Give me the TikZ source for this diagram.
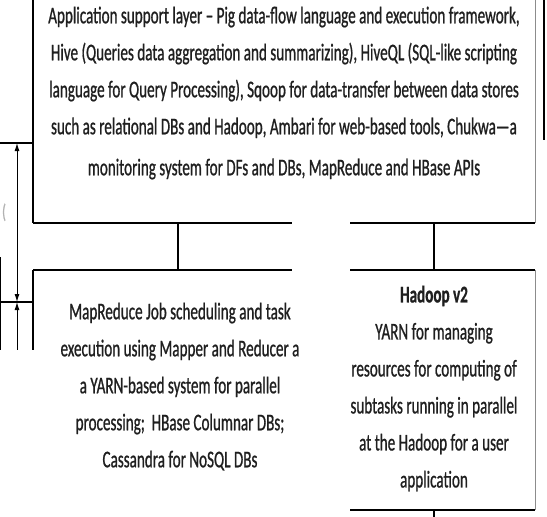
\documentclass[tikz,border=0pt]{standalone}
\usepackage{fontspec}
\setmainfont{Carlito}[FakeStretch=0.63,FakeBold=0.8]
\usepackage{tikz}
\usetikzlibrary{arrows.meta}

\begin{document}
\begin{tikzpicture}[x=1pt, y=-1pt, line width=1.2pt,
      every node/.append style={font=\fontsize{24}{37}\selectfont,align=center,inner sep=0pt,anchor=north,text=black!88},
      rim/.style={line width=2.4pt},
      side/.style={line width=0.6pt,color=black!45},
      dim/.style={line width=1pt,{Latex[length=8pt,width=5pt]}-{Latex[length=8pt,width=5pt]}}]
    \tikzstyle{faint} = [text=black!30,font=\fontsize{20}{24}\selectfont]
    \useasboundingbox (0,0) rectangle (547,517);
    \coordinate (appNW) at (33,0);
    \coordinate (appSW) at (33,223);
    \coordinate (appSM) at (292,223);
    \coordinate (appSN) at (350,223);
    \coordinate (appSE) at (535,223);
    \coordinate (appNE) at (535,0);
    \coordinate (cutN) at (544,0);
    \coordinate (cutS) at (544,140);
    \coordinate (mrNW) at (33,270);
    \coordinate (mrNE) at (292,270);
    \coordinate (mrSW) at (33,350);
    \coordinate (yarnNW) at (350,270);
    \coordinate (yarnNE) at (535,270);
    \coordinate (yarnSE) at (535,510);
    \coordinate (yarnSW) at (350,510);
    \coordinate (yarnTail) at (434,517);
    \coordinate (upL) at (178,223);
    \coordinate (downL) at (178,270);
    \coordinate (upR) at (434,223);
    \coordinate (downR) at (434,270);
    \coordinate (tickR) at (434,510);
    \coordinate (dimA) at (17,143);
    \coordinate (dimB) at (17,302);
    \coordinate (dimC) at (17,350);
    \coordinate (extA) at (0,143);
    \coordinate (extB) at (0,302);
    \coordinate (extAE) at (33,143);
    \coordinate (extBE) at (33,302);
    \coordinate (edgeN) at (0.6,257);
    \coordinate (edgeS) at (0.6,350);

    \node (app) at (284,6) {Application support layer -- Pig data-flow language and execution framework,\\
      Hive (Queries data aggregation and summarizing), HiveQL (SQL-like scripting\\
      language for Query Processing), Sqoop for data-transfer between data stores\\
      such as relational DBs and Hadoop, Ambari for web-based tools, Chukwa---a\\[4pt]
      monitoring system for DFs and DBs, MapReduce and HBase APIs};
    \node (mr) at (180,302) {MapReduce Job scheduling and task\\
      execution using Mapper and Reducer a\\
      a YARN-based system for parallel\\
      processing;\ \ HBase Columnar DBs;\\
      Cassandra for NoSQL DBs};
    \node (yarn) at (434,285) {\bfseries Hadoop v2\\
      YARN for managing\\
      resources for computing of\\
      subtasks running in parallel\\
      at the Hadoop for a user\\
      application};
    \node [faint] (paren) at (4,203) {(};

    \draw (appNW) -- (appSW);
    \draw [side] (appNE) -- (appSE);
    \draw (cutN) -- (cutS);
    \draw [rim] (appSW) -- (appSM);
    \draw [rim] (appSN) -- (appSE);
    \draw (upL) -- (downL);
    \draw (upR) -- (downR);
    \draw [rim] (mrNW) -- (mrNE);
    \draw (mrNW) -- (mrSW);
    \draw [rim] (yarnNW) -- (yarnNE);
    \draw [side] (yarnNE) -- (yarnSE);
    \draw [rim] (yarnSW) -- (yarnSE);
    \draw (tickR) -- (yarnTail);
    \draw (extA) -- (extAE);
    \draw (extB) -- (extBE);
    \draw [dim] (dimA) -- (dimB);
    \draw [dim,{Latex[length=8pt,width=5pt]}-] (dimB) -- (dimC);
    \draw (edgeN) -- (edgeS);
\end{tikzpicture}
\end{document}
